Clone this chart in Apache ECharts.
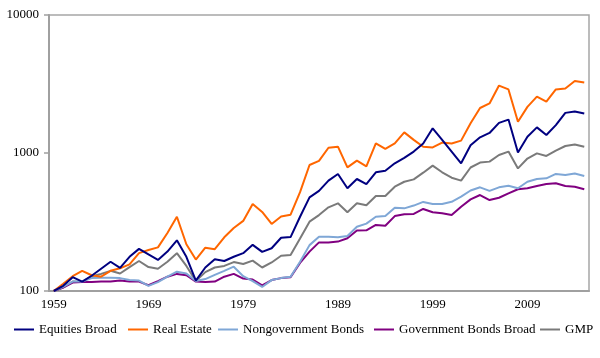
<!DOCTYPE html>
<html>
<head>
<meta charset="utf-8">
<script src="https://cdn.jsdelivr.net/npm/echarts@6/dist/echarts.min.js"></script>
<style>html,body{margin:0;padding:0;background:#fff;}#c{width:600px;height:358px;}</style>
</head>
<body>
<div id="c"></div>
<script>
var years = [];
for (var y = 1959; y <= 2015; y++) years.push(String(y));

var equitiesBroad = [100,109,126,117,129,145,163,147,177,202,
  184,168,193,233,177,119,148,170,165,177,
  188,216,192,204,243,246,345,477,531,631,
  705,555,648,595,725,744,842,922,1024,1173,
  1509,1245,1024,842,1138,1299,1397,1652,1746,1008,
  1313,1533,1350,1593,1953,2000,1935];
var realEstate = [100,113,128,140,130,127,140,146,156,188,
  198,207,263,345,218,169,206,201,245,286,
  322,427,374,306,347,357,520,818,876,1091,
  1111,787,881,800,1173,1070,1173,1410,1245,1111,
  1098,1190,1173,1229,1645,2119,2286,3080,2889,1686,
  2160,2559,2355,2889,2937,3327,3244];
var nongovBonds = [100,107,117,117,124,125,125,124,120,119,
  109,116,127,138,134,118,122,131,140,150,
  128,118,107,120,124,127,163,215,247,247,
  245,250,292,308,345,349,401,397,416,442,
  427,427,443,483,535,564,531,564,579,555,
  619,648,655,705,692,711,682];
var govBondsBroad = [100,106,115,116,116,117,117,119,117,117,
  110,118,127,133,130,117,116,117,127,133,
  123,121,110,120,124,126,160,193,225,225,
  228,241,274,275,301,297,349,360,362,393,
  372,366,355,408,461,496,456,474,510,546,
  555,576,596,603,576,570,546];
var gmp = [100,106,117,116,128,133,140,134,149,165,
  149,145,163,188,152,118,137,148,152,162,
  157,166,148,161,180,182,240,318,355,404,
  432,372,432,418,488,488,570,619,644,720,
  810,725,662,631,785,852,866,967,1024,773,
  912,994,952,1041,1124,1154,1111];

var seriesNames = ['Equities Broad','Real Estate','Nongovernment Bonds','Government Bonds Broad','GMP'];
var seriesData = [equitiesBroad, realEstate, nongovBonds, govBondsBroad, gmp];
var colors = ['#000080','#FF6600','#7FA7D6','#800080','#7A7A7A'];
var legendLeft = [14, 128, 218, 374, 540];

var font = '"Liberation Serif", "Times New Roman", serif';
var chart = echarts.init(document.getElementById('c'), null, {renderer:'canvas'});
chart.setOption({
  animation: false,
  color: colors,
  grid: {left: 49, right: 11, top: 15, bottom: 67, show: true, borderColor: '#A6A6A6', borderWidth: 1.5},
  legend: seriesNames.map(function (n, i) {
    return {
      top: 323, left: legendLeft[i], padding: 0, itemWidth: 20, itemHeight: 2, icon: 'rect',
      textStyle: {fontFamily: font, fontSize: 13, color: '#000'},
      data: [n]
    };
  }),
  xAxis: {
    type: 'category', data: years, boundaryGap: true,
    axisLine: {lineStyle: {color: '#A0A0A0', width: 2}},
    axisTick: {interval: 4, length: 5, lineStyle: {color: '#A0A0A0', width: 1.5}},
    axisLabel: {interval: 9, fontFamily: font, fontSize: 13, color: '#000', margin: 7},
    splitLine: {show: false}
  },
  yAxis: {
    type: 'log', logBase: 10, min: 100, max: 10000,
    axisLine: {show: true, lineStyle: {color: '#A0A0A0', width: 2}},
    axisTick: {show: true, length: 5, lineStyle: {color: '#A0A0A0', width: 1.5}},
    axisLabel: {fontFamily: font, fontSize: 13, color: '#000', margin: 10,
      formatter: function (v) { return String(Math.round(v)); }},
    splitLine: {show: false}
  },
  series: seriesNames.map(function (n, i) {
    return {name: n, type: 'line', data: seriesData[i], symbol: 'none', showSymbol: false,
      lineStyle: {width: 2, color: colors[i]}, itemStyle: {color: colors[i]}, z: 10 - i};
  })
});
</script>
</body>
</html>
